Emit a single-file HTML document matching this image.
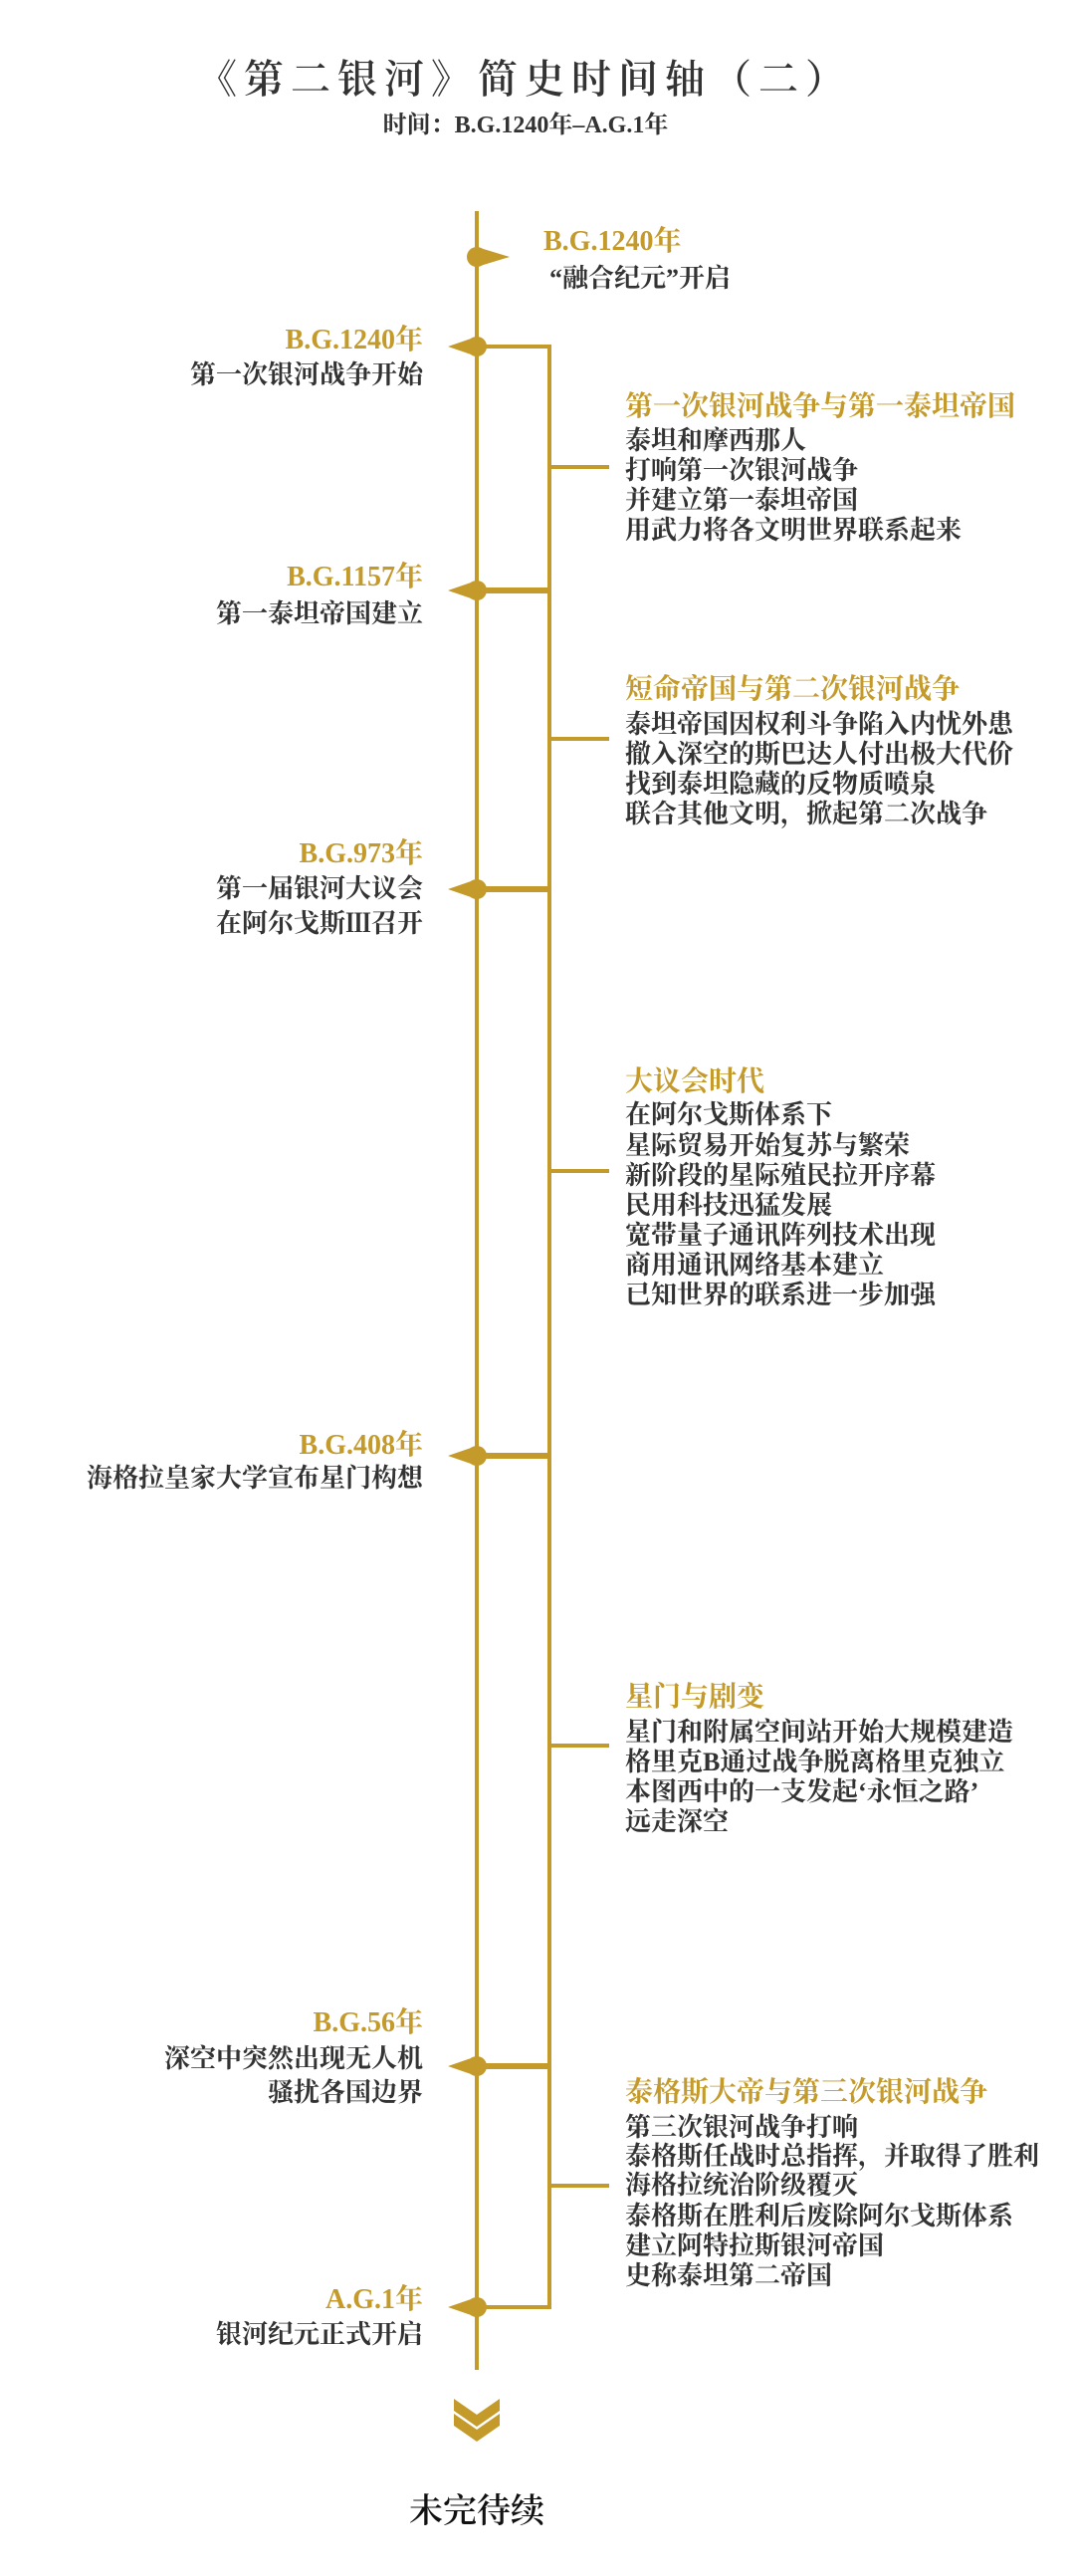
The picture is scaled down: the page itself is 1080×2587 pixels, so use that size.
<!DOCTYPE html>
<html><head><meta charset="utf-8"><style>
body{margin:0;background:#fff;}
#w{position:relative;width:1080px;height:2587px;overflow:hidden;background:#fff;font-family:"Liberation Serif","Noto Serif CJK SC",serif;}
.t{position:absolute;white-space:nowrap;line-height:36px;height:36px;font-weight:bold;}
.g{color:#C49A2A;font-size:28px;}
.d{color:#333;font-size:26px;}
.r{text-align:right;right:655px;}
.l{left:628px;}
</style></head><body><div id="w">
<svg width="1080" height="2587" style="position:absolute;left:0;top:0">
<g stroke="#C49A2A" fill="none">
<line x1="479" y1="212" x2="479" y2="2380" stroke-width="4"/>
<polyline points="479,348 552,348 552,593 479,593" stroke-width="4"/>
<polyline points="479,593 552,593 552,893 479,893" stroke-width="4"/>
<polyline points="479,893 552,893 552,1462 479,1462" stroke-width="4"/>
<polyline points="479,1462 552,1462 552,2075 479,2075" stroke-width="4"/>
<polyline points="479,2075 552,2075 552,2317 479,2317" stroke-width="4"/>
<g stroke-width="6"><line x1="479" y1="593" x2="552" y2="593"/><line x1="479" y1="893" x2="552" y2="893"/><line x1="479" y1="1462" x2="552" y2="1462"/><line x1="479" y1="2075" x2="552" y2="2075"/></g>
<g stroke-width="4"><line x1="552" y1="469" x2="612" y2="469"/><line x1="552" y1="742" x2="612" y2="742"/><line x1="552" y1="1176" x2="612" y2="1176"/><line x1="552" y1="1753" x2="612" y2="1753"/><line x1="552" y1="2195" x2="612" y2="2195"/></g>
</g>
<g fill="#C49A2A">
<circle cx="479" cy="258" r="10"/><polygon points="479,248 512,258 479,268"/>
<circle cx="479" cy="348" r="10"/><polygon points="479,338 450,348 479,358"/>
<circle cx="479" cy="593" r="10"/><polygon points="479,583 450,593 479,603"/>
<circle cx="479" cy="893" r="10"/><polygon points="479,883 450,893 479,903"/>
<circle cx="479" cy="1462" r="10"/><polygon points="479,1452 450,1462 479,1472"/>
<circle cx="479" cy="2075" r="10"/><polygon points="479,2065 450,2075 479,2085"/>
<circle cx="479" cy="2317" r="10"/><polygon points="479,2307 450,2317 479,2327"/>
<polygon points="456,2409 479,2425 502,2409 502,2421 479,2437 456,2421"/>
<polygon points="456,2424 479,2440 502,2424 502,2436 479,2452 456,2436"/>
</g>
</svg>

<div class="t" style="left:0;width:1054px;text-align:center;top:54px;height:52px;line-height:52px;font-size:40px;font-weight:600;color:#333;letter-spacing:7px;">《第二银河》简史时间轴（二）</div>
<div class="t" style="left:0;width:1056px;text-align:center;top:108px;font-size:24px;color:#333;">时间：B.G.1240年–A.G.1年</div>

<div class="t g" style="left:546px;top:225px;">B.G.1240年</div>
<div class="t d" style="left:552px;top:262px;">“融合纪元”开启</div>

<div class="t g r" style="top:324px;">B.G.1240年</div>
<div class="t d r" style="top:359px;">第一次银河战争开始</div>

<div class="t g r" style="top:562px;">B.G.1157年</div>
<div class="t d r" style="top:599px;">第一泰坦帝国建立</div>

<div class="t g r" style="top:840px;">B.G.973年</div>
<div class="t d r" style="top:875px;">第一届银河大议会</div>
<div class="t d r" style="top:910px;">在阿尔戈斯Ⅲ召开</div>

<div class="t g r" style="top:1434px;">B.G.408年</div>
<div class="t d r" style="top:1467px;">海格拉皇家大学宣布星门构想</div>

<div class="t g r" style="top:2014px;">B.G.56年</div>
<div class="t d r" style="top:2050px;">深空中突然出现无人机</div>
<div class="t d r" style="top:2084px;">骚扰各国边界</div>

<div class="t g r" style="top:2292px;">A.G.1年</div>
<div class="t d r" style="top:2327px;">银河纪元正式开启</div>

<div class="t g l" style="top:391px;">第一次银河战争与第一泰坦帝国</div>
<div class="t d l" style="top:425px;">泰坦和摩西那人</div>
<div class="t d l" style="top:455px;">打响第一次银河战争</div>
<div class="t d l" style="top:485px;">并建立第一泰坦帝国</div>
<div class="t d l" style="top:515px;">用武力将各文明世界联系起来</div>

<div class="t g l" style="top:675px;">短命帝国与第二次银河战争</div>
<div class="t d l" style="top:710px;">泰坦帝国因权利斗争陷入内忧外患</div>
<div class="t d l" style="top:740px;">撤入深空的斯巴达人付出极大代价</div>
<div class="t d l" style="top:770px;">找到泰坦隐藏的反物质喷泉</div>
<div class="t d l" style="top:800px;">联合其他文明，掀起第二次战争</div>

<div class="t g l" style="top:1069px;">大议会时代</div>
<div class="t d l" style="top:1102px;">在阿尔戈斯体系下</div>
<div class="t d l" style="top:1133px;">星际贸易开始复苏与繁荣</div>
<div class="t d l" style="top:1163px;">新阶段的星际殖民拉开序幕</div>
<div class="t d l" style="top:1193px;">民用科技迅猛发展</div>
<div class="t d l" style="top:1223px;">宽带量子通讯阵列技术出现</div>
<div class="t d l" style="top:1253px;">商用通讯网络基本建立</div>
<div class="t d l" style="top:1283px;">已知世界的联系进一步加强</div>

<div class="t g l" style="top:1687px;">星门与剧变</div>
<div class="t d l" style="top:1722px;">星门和附属空间站开始大规模建造</div>
<div class="t d l" style="top:1752px;">格里克B通过战争脱离格里克独立</div>
<div class="t d l" style="top:1782px;">本图西中的一支发起‘永恒之路’</div>
<div class="t d l" style="top:1812px;">远走深空</div>

<div class="t g l" style="top:2084px;">泰格斯大帝与第三次银河战争</div>
<div class="t d l" style="top:2119px;">第三次银河战争打响</div>
<div class="t d l" style="top:2148px;">泰格斯任战时总指挥，并取得了胜利</div>
<div class="t d l" style="top:2177px;">海格拉统治阶级覆灭</div>
<div class="t d l" style="top:2208px;">泰格斯在胜利后废除阿尔戈斯体系</div>
<div class="t d l" style="top:2238px;">建立阿特拉斯银河帝国</div>
<div class="t d l" style="top:2268px;">史称泰坦第二帝国</div>

<div class="t" style="left:379px;width:200px;text-align:center;top:2501px;height:44px;line-height:44px;font-size:34px;font-weight:600;color:#111;">未完待续</div>
</div></body></html>
